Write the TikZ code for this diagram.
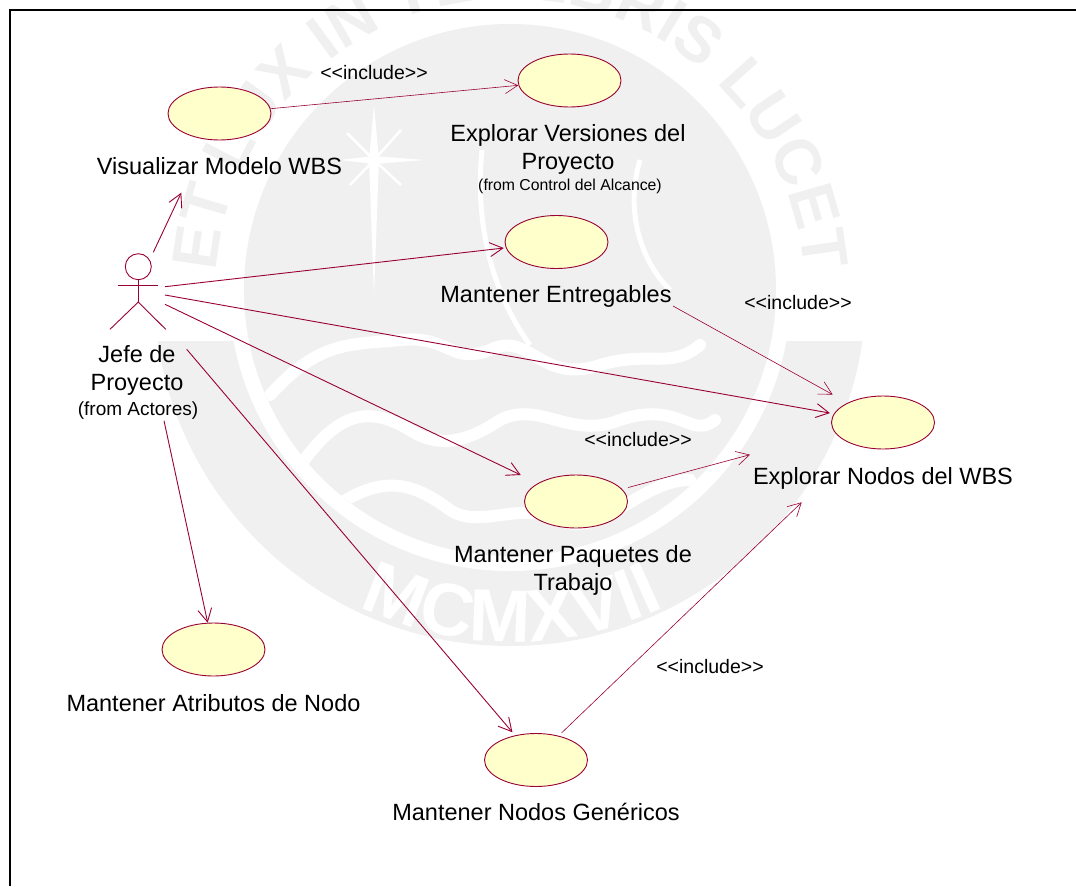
\documentclass[tikz,border=0pt]{standalone}
\usepackage{fontspec}
\setmainfont{Liberation Sans}
\usepackage{tikz}
\definecolor{ln}{RGB}{153, 0, 51}
\definecolor{uc}{RGB}{255, 255, 204}
\definecolor{wm}{RGB}{240, 240, 240}
\usetikzlibrary{arrows.meta}
\usetikzlibrary{decorations.text}
\usetikzlibrary{shapes.geometric}
\tikzset{
  usecase/.style={ellipse, minimum width=103pt, minimum height=53pt, inner sep=0pt, fill=uc, line width=0.9pt, draw=ln},
  assoc/.style={line width=0.9pt, color=ln, -{Straight Barb[length=13pt, width=14pt, line width=0.9pt]}},
  incl/.style={line width=0.6pt, color=ln, -{Straight Barb[length=13pt, width=14pt, line width=0.6pt]}},
  uclabel/.style={align=center, inner sep=0pt, font=\fontsize{23.5}{28}\selectfont},
  stereo/.style={inner sep=0pt, font=\fontsize{19.5}{22}\selectfont},
  fromlabel/.style={inner sep=0pt, font=\fontsize{15.8}{18}\selectfont},
  wave/.style={line width=12pt, color=white, line cap=round},
}
\begin{document}
\begin{tikzpicture}
\useasboundingbox (0pt, 0pt) rectangle (1076pt, -886pt);
% seal behind the diagram
\begin{scope}
\clip (0pt, 0pt) rectangle (1076pt, -886pt);
\begin{scope}
\clip (100pt, -341pt) rectangle (920pt, -700pt);
\fill [wm] (510pt, -290pt) circle (356pt);
\end{scope}
\fill [white] (510pt, -290pt) circle (281pt);
\fill [wm] (510pt, -290pt) circle (266pt);
\path [decorate, decoration={text along path, text align=center, text color=wm, text={|\fontsize{64}{66}\bfseries|ET LUX IN TENEBRIS LUCET}}] (218pt, -335pt) arc (188:-8:295pt);
\path [decorate, decoration={text along path, text align=center, text color=white, text={|\fontsize{74}{76}\bfseries|MCMXVII}}] (240pt, -512pt) arc (219:321:350pt);
\begin{scope}
\clip (510pt, -290pt) circle (266pt);
\draw [wave] (270pt, -395pt) .. controls (320pt, -340pt) and (350pt, -345pt) .. (400pt, -340pt) .. controls (450pt, -335pt) and (450pt, -365pt) .. (490pt, -350pt) .. controls (530pt, -330pt) and (540pt, -385pt) .. (600pt, -365pt) .. controls (650pt, -350pt) and (670pt, -370pt) .. (700pt, -345pt);
\draw [wave] (290pt, -480pt) .. controls (330pt, -420pt) and (360pt, -400pt) .. (410pt, -430pt) .. controls (440pt, -450pt) and (470pt, -440pt) .. (500pt, -420pt) .. controls (540pt, -400pt) and (570pt, -440pt) .. (620pt, -420pt) .. controls (680pt, -400pt) and (690pt, -440pt) .. (715pt, -420pt);
\draw [wave] (330pt, -510pt) .. controls (380pt, -475pt) and (410pt, -480pt) .. (450pt, -510pt) .. controls (480pt, -530pt) and (520pt, -500pt) .. (560pt, -520pt) .. controls (600pt, -540pt) and (640pt, -480pt) .. (690pt, -480pt);
\draw [line width=5pt, color=white] (482pt, -150pt) .. controls (475pt, -220pt) and (490pt, -290pt) .. (530pt, -345pt);
\draw [line width=5pt, color=white] (640pt, -160pt) .. controls (625pt, -210pt) and (640pt, -260pt) .. (670pt, -290pt);
\end{scope}
% star
\coordinate (star) at (374pt, -160pt);
\fill [white] (374pt, -105pt) -- (379pt, -160pt) -- (374pt, -295pt) -- (369pt, -160pt) -- cycle;
\fill [white] (340pt, -160pt) -- (374pt, -156pt) -- (425pt, -160pt) -- (374pt, -164pt) -- cycle;
\foreach \tipx/\tipy in {347/133, 401/130, 350/185, 401/185}
  \draw [white, line width=2.5pt] (star) -- (\tipx pt, -\tipy pt);
\end{scope}
% frame
\draw [line width=2pt] (10pt, -886pt) -- (10pt, -10pt) -- (1076pt, -10pt);
% use cases
\node (1) [usecase] at (219.5pt, -113.5pt) {};
\node (2) [usecase] at (569.5pt, -80.5pt) {};
\node (3) [usecase] at (556.5pt, -242pt) {};
\node (4) [usecase] at (883pt, -422.5pt) {};
\node (5) [usecase] at (576pt, -501.5pt) {};
\node (6) [usecase] at (536pt, -760pt) {};
\node (7) [usecase] at (213.5pt, -649.5pt) {};
\node (t1) [uclabel] at (219.5pt, -166pt) {Visualizar Modelo WBS};
\node (t2) [uclabel] at (568pt, -149pt) {Explorar Versiones del\\Proyecto};
\node (f2) [fromlabel] at (570pt, -186pt) {(from Control del Alcance)};
\node (t3) [uclabel] at (556pt, -296pt) {Mantener Entregables};
\node (t4) [uclabel] at (883pt, -478pt) {Explorar Nodos del WBS};
\node (t5) [uclabel] at (573pt, -570pt) {Mantener Paquetes de\\Trabajo};
\node (t6) [uclabel] at (536pt, -812pt) {Mantener Nodos Genéricos};
\node (t7) [uclabel] at (213.5pt, -703pt) {Mantener Atributos de Nodo};
% actor
\node (a) [circle, minimum size=26pt, inner sep=0pt, line width=0.9pt, draw=ln] at (138.3pt, -266.7pt) {};
\coordinate (hip) at (138.3pt, -302pt);
\coordinate (armL) at (117.7pt, -285pt);
\coordinate (armR) at (158pt, -285pt);
\coordinate (legL) at (110pt, -329.3pt);
\coordinate (legR) at (165.7pt, -329.3pt);
\draw [line width=0.9pt, color=ln] (a) -- (hip);
\draw [line width=0.9pt, color=ln] (armL) -- (armR);
\draw [line width=0.9pt, color=ln] (legL) -- (hip) -- (legR);
\node (ta) [uclabel] at (137pt, -370.5pt) {Jefe de\\Proyecto};
\node (fa) [stereo, font=\fontsize{19}{22}\selectfont] at (138pt, -411pt) {(from Actores)};
% free ends of the connectors
\coordinate (s1) at (153.3pt, -252.3pt);
\coordinate (e1) at (181.3pt, -192.7pt);
\coordinate (s3) at (165pt, -286.7pt);
\coordinate (s4) at (165pt, -295pt);
\coordinate (s5) at (165pt, -304.3pt);
\coordinate (s6) at (186.7pt, -349.3pt);
\coordinate (s7) at (164pt, -420.7pt);
\coordinate (s8) at (673pt, -306pt);
\coordinate (e9) at (750pt, -454.7pt);
\coordinate (e10) at (801.7pt, -502.3pt);
\draw [assoc] (s1) to (e1);
\draw [assoc, shorten >=2pt] (s3) to (3);
\draw [assoc, shorten >=4pt] (s4) to (4);
\draw [assoc, shorten >=19pt] (s5) to (5);
\draw [assoc, shorten >=4pt] (s6) to (6);
\draw [assoc] (s7) to (7);
\draw [incl] (1) to (2);
\draw [incl, shorten >=17pt] (s8) to (4);
\draw [incl, shorten <=6pt] (5.15.5) to (e9);
\draw [incl, shorten <=4pt] (6.47) to (e10);
\node (i1) [stereo] at (374pt, -73pt) {<{}<include>{}>};
\node (i2) [stereo] at (798pt, -303pt) {<{}<include>{}>};
\node (i3) [stereo] at (638pt, -440pt) {<{}<include>{}>};
\node (i4) [stereo] at (710pt, -667pt) {<{}<include>{}>};
\end{tikzpicture}
\end{document}
